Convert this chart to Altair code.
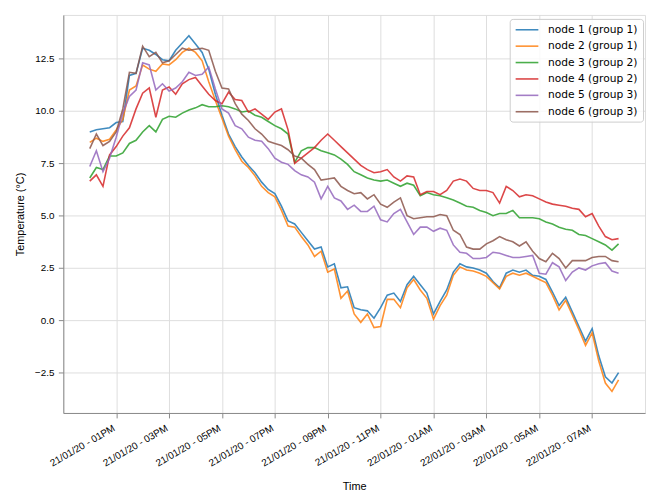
import altair as alt
import pandas as pd

# 15-minute readings from 21/01/20 12:00 to 22/01/20 08:00
START = "2020-01-21 12:00"
N_POINTS = 81

node1 = [9.0, 9.1, 9.15, 9.2, 9.45, 9.5, 11.7, 11.8, 13.0, 12.9,
         12.7, 12.45, 12.4, 12.9, 13.25, 13.6, 13.2, 12.8, 12.0, 10.8,
         9.8, 8.9, 8.3, 7.8, 7.4, 7.05, 6.6, 6.25, 6.05, 5.45,
         4.75, 4.6, 4.2, 3.8, 3.4, 3.5, 2.55, 2.7, 1.55, 1.6,
         0.6, 0.5, 0.45, 0.1, 0.6, 1.2, 1.3, 0.9, 1.7, 2.1,
         1.7, 1.3, 0.3, 0.9, 1.45, 2.3, 2.7, 2.55, 2.5, 2.4,
         2.25, 1.85, 1.55, 2.25, 2.4, 2.3, 2.4, 2.15, 2.1, 1.95,
         1.35, 0.7, 1.1, 0.4, -0.3, -1.0, -0.4, -1.7, -2.7, -3.0, -2.5]

node2 = [8.5, 8.7, 8.55, 8.65, 9.1, 9.6, 11.0, 11.2, 12.2, 12.0,
         11.9, 12.25, 12.2, 12.45, 12.8, 13.0, 12.8, 12.4, 11.4, 10.5,
         9.65, 8.8, 8.15, 7.6, 7.3, 6.9, 6.4, 6.1, 5.9, 5.25,
         4.5, 4.45, 4.0, 3.6, 3.05, 3.3, 2.3, 2.45, 1.05, 1.4,
         0.3, -0.1, 0.3, -0.35, -0.3, 1.0, 1.0, 0.6, 1.55, 1.95,
         1.45, 1.05, 0.05, 0.7, 1.2, 2.15, 2.55, 2.4, 2.35, 2.25,
         2.1, 1.8, 1.5, 2.1, 2.25, 2.15, 2.25, 2.1, 1.95, 1.8,
         1.2, 0.5, 0.95, 0.25, -0.45, -1.2, -0.6, -1.95, -3.0, -3.4, -2.85]

node3 = [6.8, 7.3, 7.2, 7.85, 7.85, 8.0, 8.45, 8.6, 9.0, 9.3,
         9.0, 9.6, 9.75, 9.7, 9.9, 10.05, 10.15, 10.3, 10.2, 10.2,
         10.25, 10.2, 10.1, 9.95, 10.0, 9.8, 9.7, 9.5, 9.3, 9.15,
         8.9, 7.55, 8.1, 8.25, 8.25, 8.1, 8.0, 7.9, 7.7, 7.45,
         7.1, 6.95, 6.8, 6.7, 6.65, 6.7, 6.55, 6.4, 6.55, 6.45,
         5.95, 6.1, 6.0, 5.95, 5.85, 5.75, 5.6, 5.45, 5.4, 5.25,
         5.15, 5.0, 5.1, 5.1, 5.25, 4.9, 4.9, 4.9, 4.85, 4.7,
         4.6, 4.45, 4.35, 4.3, 4.1, 4.05, 3.9, 3.75, 3.6, 3.35, 3.65]

node4 = [6.65, 6.95, 6.4, 7.9, 8.3, 8.8, 9.2, 10.1, 10.85, 11.1,
         9.7, 11.0, 11.15, 10.8, 11.3, 11.5, 11.6, 11.2, 10.8, 10.5,
         10.35, 10.9, 10.55, 10.5, 9.95, 10.1, 9.85, 9.6, 9.95, 10.1,
         9.1, 7.5, 7.75, 8.0, 8.25, 8.6, 8.9, 8.6, 8.3, 8.0,
         7.7, 7.4, 7.2, 7.05, 7.1, 7.2, 6.85, 6.65, 6.9, 6.85,
         6.0, 6.15, 6.15, 6.0, 6.2, 6.65, 6.75, 6.65, 6.3, 6.2,
         6.2, 6.1, 5.6, 6.4, 6.2, 5.9, 6.0, 5.95, 5.8, 5.65,
         5.55, 5.5, 5.45, 5.35, 5.3, 4.95, 5.1, 4.5, 4.0, 3.85, 3.9]

node5 = [7.35, 8.1, 7.1, 7.75, 8.75, 9.9, 10.7, 11.0, 12.3, 12.2,
         11.0, 11.3, 10.95, 11.1, 11.4, 11.85, 11.7, 11.75, 12.1, 11.05,
         10.1, 9.9, 9.3, 9.15, 8.75, 8.6, 8.55, 8.2, 7.75, 7.55,
         7.45, 7.15, 6.95, 6.85, 6.6, 5.8, 6.4, 5.85, 5.7, 5.3,
         5.5, 5.2, 5.2, 5.45, 4.8, 4.7, 5.1, 5.3, 4.7, 4.1,
         4.45, 4.45, 4.25, 4.4, 4.3, 3.6, 3.25, 3.2, 2.95, 2.95,
         3.0, 3.25, 3.2, 3.1, 3.0, 3.0, 3.05, 3.1, 2.25, 2.2,
         2.75, 2.55, 1.9, 2.3, 2.5, 2.4, 2.6, 2.7, 2.75, 2.35, 2.25]

node6 = [8.2, 8.9, 8.35, 8.55, 9.0, 10.1, 11.85, 11.8, 13.1, 12.6,
         12.8, 12.3, 12.4, 12.7, 13.0, 12.9, 12.95, 13.0, 12.9, 11.9,
         11.1, 11.05, 10.35, 9.85, 9.55, 9.15, 8.9, 8.55, 8.45, 8.35,
         8.15, 7.85, 7.75, 7.45, 7.2, 6.7, 6.75, 6.8, 6.4, 6.2,
         6.05, 6.1, 5.8, 6.0, 5.55, 5.4, 5.65, 5.85, 5.0, 4.85,
         4.9, 4.95, 4.95, 5.05, 5.0, 4.3, 4.1, 3.5, 3.4, 3.4,
         3.65, 3.8, 4.0, 3.85, 3.75, 3.55, 3.75, 3.3, 2.95, 2.8,
         3.2, 2.95, 2.5, 2.85, 2.85, 2.85, 3.0, 3.05, 3.05, 2.85, 2.8]

series_names = ["node 1 (group 1)", "node 2 (group 1)", "node 3 (group 2)",
                "node 4 (group 2)", "node 5 (group 3)", "node 6 (group 3)"]
series_values = [node1, node2, node3, node4, node5, node6]
colors = ["#1f77b4", "#ff7f0e", "#2ca02c", "#d62728", "#9467bd", "#8c564b"]

y_ticks = [-2.5, 0.0, 2.5, 5.0, 7.5, 10.0, 12.5]
x_tick_hours = [(21, 13), (21, 15), (21, 17), (21, 19), (21, 21), (21, 23),
                (22, 1), (22, 3), (22, 5), (22, 7)]

times = pd.date_range(START, periods=N_POINTS, freq="15min")
rows = []
for order, (name, vals) in enumerate(zip(series_names, series_values)):
    for t, v in zip(times, vals):
        rows.append({"time": t, "temp": v, "node": name, "order": order})
df = pd.DataFrame(rows)

FONT = "DejaVu Sans"
FS = 10.8

x_values = [alt.DateTime(year=2020, month=1, date=d, hours=h) for d, h in x_tick_hours]

chart = alt.Chart(df).mark_line(strokeWidth=1.6, opacity=0.85).encode(
    x=alt.X("time:T",
            scale=alt.Scale(domain=[alt.DateTime(year=2020, month=1, date=21, hours=11),
                                    alt.DateTime(year=2020, month=1, date=22, hours=9)],
                            nice=False),
            axis=alt.Axis(values=x_values, format="%d/%m/%y - %I%p",
                          labelAngle=-30, labelAlign="right", labelBaseline="top",
                          labelOverlap=False, labelPadding=5, labelOffset=-5,
                          title="Time", titlePadding=13, titleFontWeight="normal")),
    y=alt.Y("temp:Q",
            scale=alt.Scale(domain=[-4.43, 14.59], nice=False, zero=False),
            axis=alt.Axis(values=y_ticks, format=".1f", title="Temperature (°C)",
                          titlePadding=9, labelPadding=4.5, labelOverlap=False,
                          titleFontWeight="normal")),
    color=alt.Color("node:N",
                    scale=alt.Scale(domain=series_names, range=colors),
                    legend=alt.Legend(orient="none", legendX=452, legendY=4, title=None,
                                      symbolType="M-1,0H3.6", symbolSize=100,
                                      symbolStrokeWidth=1.6, symbolOpacity=0.85,
                                      labelFontSize=FS, labelFont=FONT, labelColor="#000000",
                                      fillColor="rgba(255,255,255,0.8)", strokeColor="#cccccc",
                                      cornerRadius=3, padding=5, rowPadding=5.6,
                                      labelOffset=21.7)),
    order=alt.Order("order:Q"),
    detail="node:N",
).properties(
    width=589,
    height=403,
    autosize=alt.AutoSizeParams(type="none"),
    padding={"left": 56, "top": 4, "right": 2, "bottom": 78},
).configure_view(
    stroke="#000000", strokeWidth=1
).configure_axis(
    labelFont=FONT, titleFont=FONT, labelFontSize=FS, titleFontSize=FS,
    labelColor="#000000", titleColor="#000000", titleFontWeight="normal",
    grid=True, gridColor="#b0b0b0", gridWidth=0.8,
    domain=False, tickColor="#000000", tickSize=4, tickWidth=0.8,
).configure(background="white")

chart.save("out.html", embed_options={"renderer": "svg", "actions": False})
